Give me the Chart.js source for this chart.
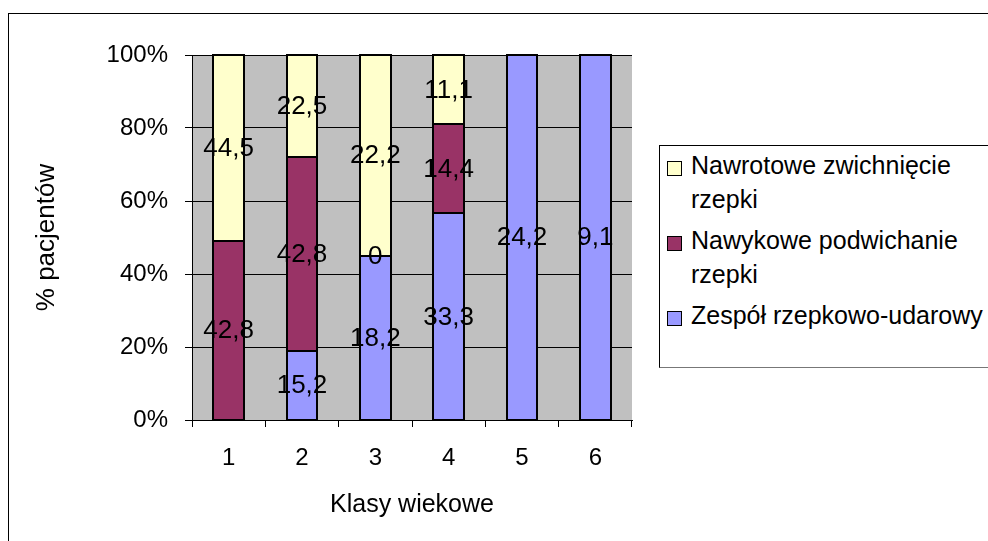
<!DOCTYPE html>
<html lang="pl">
<head>
  <meta charset="UTF-8">
  <script src="https://cdn.jsdelivr.net/npm/chart.js"></script>
  <title>Klasy wiekowe</title>
  <style>
    body { margin: 0; background: #fff; font-family: "Liberation Sans", Arial, sans-serif; }
    .mae { position: relative; width: 988px; height: 541px; overflow: hidden; }
    .ramka { position: absolute; left: 8px; top: 13px; width: 1200px; height: 800px; border: 1px solid #000; box-sizing: border-box; }
    canvas { position: absolute; left: 0; top: 0; }
    .legenda { position: absolute; left: 659px; top: 145px; width: 500px; height: 223px; border: 1px solid #000;
      border-bottom-color: #777; box-sizing: border-box; padding-top: 2px; background: #fff; }
    .item { display: flex; margin-bottom: 7px; }
    .marker { width: 15px; height: 15px; border: 1px solid #000; box-sizing: border-box; margin: 13px 9px 0 7px; flex: none; }
    .tekst { font-size: 25px; line-height: 34px; color: #000; }
  </style>
</head>
<body>
  <div class="mae">
    <div class="ramka"></div>
    <canvas id="chartBar" width="988" height="541"></canvas>
    <div class="legenda" id="legenda"></div>
  </div>

<script>
  // dane z wykresu (wartosci nad slupkami)
  const klasy = ['1', '2', '3', '4', '5', '6'];
  const zespol = [null, 15.2, 18.2, 33.3, 24.2, 9.1];
  const nawykowe = [42.8, 42.8, 0, 14.4, null, null];
  const nawrotowe = [44.5, 22.5, 22.2, 11.1, null, null];
  const nazwy = ['Zespół rzepkowo-udarowy', 'Nawykowe podwichanie rzepki', 'Nawrotowe zwichnięcie rzepki'];
  const kolory = ['#9999FF', '#993366', '#FFFFCC'];
  const yTicks = [0, 20, 40, 60, 80, 100];

  const serie = [zespol, nawykowe, nawrotowe];

  // sumy dla wykresu 100%
  const sumy = klasy.map(function (k, i) {
    let s = 0;
    serie.forEach(function (d) { s += d[i] || 0; });
    return s;
  });

  function procenty(dane) {
    return dane.map(function (v, i) { return v === null ? null : v / sumy[i] * 100; });
  }

  const rodzina = "'Liberation Sans', Arial, sans-serif";
  const czcionka = { family: rodzina, size: 24 };

  const tloPlugin = {
    id: 'tlo',
    beforeDraw(chart) {
      const a = chart.chartArea;
      const ctx = chart.ctx;
      ctx.save();
      ctx.fillStyle = '#C0C0C0';
      ctx.fillRect(a.left, a.top, a.right - a.left, a.bottom - a.top);
      ctx.restore();
    }
  };

  // obramowanie slupkow + etykiety z wartosciami
  const etykietyPlugin = {
    id: 'etykiety',
    afterDatasetsDraw(chart) {
      const ctx = chart.ctx;
      ctx.save();
      ctx.strokeStyle = '#000';
      ctx.lineWidth = 2;
      chart.data.datasets.forEach(function (ds, di) {
        const meta = chart.getDatasetMeta(di);
        meta.data.forEach(function (el, i) {
          if (ds.surowe[i] === null) return;
          const x0 = Math.round(el.x - el.width / 2);
          const x1 = Math.round(el.x + el.width / 2);
          const y0 = Math.round(Math.min(el.y, el.base));
          const y1 = Math.round(Math.max(el.y, el.base));
          ctx.strokeRect(x0, y0, x1 - x0, y1 - y0);
        });
      });
      ctx.font = '26px "Liberation Sans", Arial, sans-serif';
      ctx.fillStyle = '#000';
      ctx.textAlign = 'center';
      ctx.textBaseline = 'middle';
      chart.data.datasets.forEach(function (ds, di) {
        const meta = chart.getDatasetMeta(di);
        meta.data.forEach(function (el, i) {
          const v = ds.surowe[i];
          if (v === null) return;
          const txt = String(v).replace('.', ',');
          ctx.fillText(txt, el.x, (el.y + el.base) / 2 + 1);
        });
      });
      ctx.restore();
    }
  };

  const dataBar = {
    labels: klasy,
    datasets: serie.map(function (d, i) {
      return {
        label: nazwy[i],
        data: procenty(d),
        surowe: d,
        backgroundColor: kolory[i],
        borderWidth: 0,
        categoryPercentage: 1,
        barPercentage: 0.42
      };
    })
  };

  const configBar = {
    type: 'bar',
    data: dataBar,
    options: {
      responsive: false,
      animation: false,
      layout: { padding: { top: 55, right: 356, bottom: 0, left: 0 } },
      plugins: { legend: { display: false }, tooltip: { enabled: false } },
      scales: {
        x: {
          stacked: true,
          grid: { drawOnChartArea: false, color: '#000', tickLength: 7, offset: true },
          border: { color: '#000' },
          ticks: { color: '#000', font: czcionka, padding: 17, maxRotation: 0 },
          title: { display: true, text: 'Klasy wiekowe', color: '#000', font: { family: rodzina, size: 25 }, padding: { top: 0, bottom: 21 } },
          afterFit(scale) { scale.height = 121; }
        },
        y: {
          stacked: true,
          min: 0,
          max: 100,
          afterBuildTicks(scale) { scale.ticks = yTicks.map(function (v) { return { value: v }; }); },
          grid: { color: '#000', tickLength: 7 },
          border: { color: '#000' },
          ticks: {
            color: '#000', font: czcionka, padding: 17,
            callback: function (v) { return v + '%'; }
          },
          title: { display: true, text: '% pacjentów', color: '#000', font: { family: rodzina, size: 26 }, padding: { top: 31, bottom: 0 } },
          afterFit(scale) { scale.width = 192; }
        }
      }
    },
    plugins: [tloPlugin, etykietyPlugin]
  };

  const bar = new Chart(document.getElementById('chartBar'), configBar);

  // legenda w HTML (kolejnosc odwrocona jak w oryginale)
  const leg = document.getElementById('legenda');
  const tekstyLegendy = [
    'Nawrotowe zwichnięcie<br>rzepki',
    'Nawykowe podwichanie<br>rzepki',
    'Zespół rzepkowo-udarowy'
  ];
  const koloryLegendy = [kolory[2], kolory[1], kolory[0]];
  for (var i = 0; i < tekstyLegendy.length; i++) {
    const it = document.createElement('div');
    it.className = 'item';
    it.innerHTML = '<div class="marker" style="background:' + koloryLegendy[i] + '"></div><div class="tekst">' + tekstyLegendy[i] + '</div>';
    leg.appendChild(it);
  }
</script>
</body>
</html>
